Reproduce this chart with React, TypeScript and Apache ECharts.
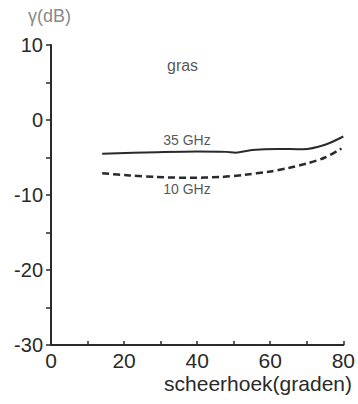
import React, { useEffect, useRef } from "react";
import * as echarts from "echarts";

const angles35 = [14, 29, 40, 48, 50.5, 55, 62, 69, 75, 80];
const gain35 = [-4.5, -4.3, -4.2, -4.25, -4.35, -4.0, -3.85, -3.9, -3.3, -2.2];
const angles10 = [14, 21.5, 29, 37.5, 46.5, 53, 59.5, 65, 70, 75, 79.5];
const gain10 = [-7.1, -7.4, -7.6, -7.7, -7.6, -7.3, -6.9, -6.4, -5.8, -5.0, -3.8];
const annotations = [
  { name: "gras", x: 36, y: 7.3, size: 16 },
  { name: "35 GHz", x: 37.2, y: -2.7, size: 14 },
  { name: "10 GHz", x: 37.2, y: -9.2, size: 14 },
];
const xTitle = "scheerhoek(graden)";
const yTitle = "γ(dB)";

const FONT = "'Liberation Sans', 'DejaVu Sans', sans-serif";

export default function App() {
  const ref = useRef<HTMLDivElement>(null);
  useEffect(() => {
    if (!ref.current) return;
    const chart = echarts.init(ref.current, null, { renderer: "svg" });
    const ink = "#2a2a2a";
    chart.setOption({
      animation: false,
      backgroundColor: "#ffffff",
      grid: { left: 51, right: 11, top: 45, bottom: 59 },
      xAxis: {
        type: "value",
        min: 0,
        max: 80,
        interval: 10,
        axisLine: { onZero: false, lineStyle: { color: ink, width: 2 } },
        axisTick: { inside: true, length: 4, lineStyle: { color: ink, width: 1.5 } },
        splitLine: { show: false },
        axisLabel: {
          color: ink,
          fontSize: 21,
          fontFamily: FONT,
          margin: 5,
          formatter: (v: number) => (v % 20 === 0 ? String(v) : ""),
        },
      },
      yAxis: {
        type: "value",
        min: -30,
        max: 10,
        interval: 5,
        axisLine: { show: true, onZero: false, lineStyle: { color: ink, width: 2 } },
        axisTick: { show: true, inside: false, length: 5, lineStyle: { color: ink, width: 1.5 } },
        splitLine: { show: false },
        axisLabel: {
          color: ink,
          fontSize: 20,
          fontFamily: FONT,
          margin: 8,
          formatter: (v: number) => (v % 10 === 0 ? String(v) : ""),
        },
      },
      graphic: [
        {
          type: "text",
          left: 28,
          top: 7,
          style: { text: yTitle, fontSize: 18, fontFamily: FONT, fill: "#8a8a8a" },
        },
        {
          type: "text",
          right: 6,
          top: 373,
          style: { text: xTitle, fontSize: 21, fontFamily: FONT, fill: ink },
        },
      ],
      series: [
        {
          type: "line",
          data: angles35.map((a, i) => [a, gain35[i]]),
          smooth: 0.3,
          symbol: "none",
          lineStyle: { color: ink, width: 2 },
        },
        {
          type: "line",
          data: angles10.map((a, i) => [a, gain10[i]]),
          smooth: 0.3,
          symbol: "none",
          lineStyle: { color: ink, width: 2.5, type: [7, 4] },
        },
        {
          type: "scatter",
          symbolSize: 0,
          data: annotations.map((d) => ({
            name: d.name,
            value: [d.x, d.y],
            label: { fontSize: d.size },
          })),
          label: {
            show: true,
            position: "inside",
            formatter: (p: any) => p.name,
            color: ink,
            fontFamily: FONT,
          },
        },
      ],
    });
    return () => chart.dispose();
  }, []);
  return (
    <div
      ref={ref}
      style={{ position: "fixed", left: 0, top: 0, width: 358, height: 404 }}
    />
  );
}
